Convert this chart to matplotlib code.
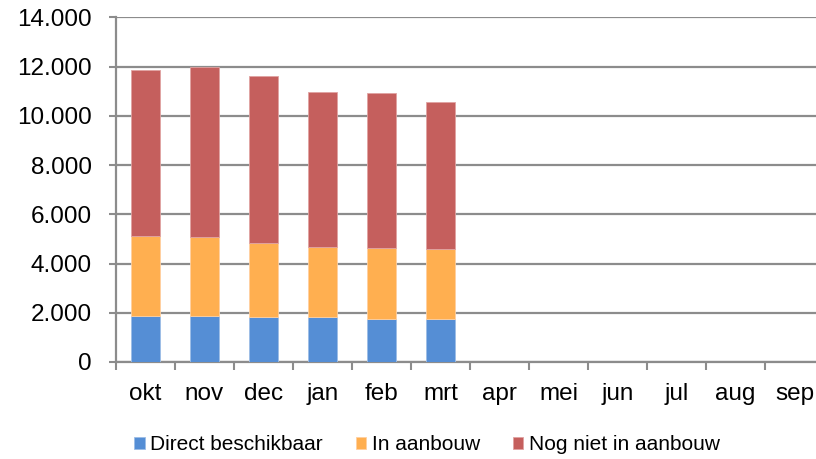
import matplotlib.pyplot as plt
from matplotlib.ticker import FuncFormatter, FixedLocator
import numpy as np

plt.rcParams['font.family'] = ['Liberation Sans', 'DejaVu Sans']

# data
months = ['okt', 'nov', 'dec', 'jan', 'feb', 'mrt', 'apr', 'mei', 'jun', 'jul', 'aug', 'sep']
direct = [1870, 1880, 1830, 1840, 1760, 1730]
in_aanbouw = [3250, 3200, 3020, 2850, 2870, 2860]
nog_niet = [6750, 6900, 6760, 6270, 6290, 5950]

col_blue = '#558ED5'
col_orange = '#FFAF50'
col_red = '#C55F5D'
grid_col = '#8C8C8C'

fig = plt.figure(figsize=(8.16, 4.59), dpi=100)
# axes runs past the right edge, like the original export
ax = fig.add_axes([116 / 816, 97 / 459, 708 / 816, 344.7 / 459])

x = np.arange(len(direct))
w = 0.49
bottom2 = np.array(direct)
bottom3 = bottom2 + np.array(in_aanbouw)
ax.bar(x, direct, w, color=col_blue, edgecolor='#9DBDE6', linewidth=0.6, label='Direct beschikbaar', zorder=3)
ax.bar(x, in_aanbouw, w, bottom=bottom2, color=col_orange, edgecolor='#FFD0A0', linewidth=0.6, label='In aanbouw', zorder=3)
ax.bar(x, nog_niet, w, bottom=bottom3, color=col_red, edgecolor='#E0A3A2', linewidth=0.6, label='Nog niet in aanbouw', zorder=3)

ax.set_xlim(-0.5, len(months) - 0.5)
ax.set_ylim(0, 14000)
ax.set_yticks(range(0, 14001, 2000))
ax.yaxis.set_major_formatter(FuncFormatter(lambda v, p: f'{int(v):,}'.replace(',', '.')))

ax.set_xticks(range(len(months)))
ax.set_xticklabels(months)
ax.xaxis.set_minor_locator(FixedLocator(np.arange(-0.5, len(months), 1)))
ax.tick_params(axis='x', which='major', length=0, pad=15, labelsize=17.5)
ax.tick_params(axis='x', which='minor', length=6, width=1.5, color=grid_col, direction='out')
ax.tick_params(axis='y', length=5, width=1.5, color=grid_col, pad=12.5, labelsize=17.5)

ax.grid(axis='y', color=grid_col, linewidth=1.6, zorder=0)
ax.set_axisbelow(True)
for s in ['top', 'right']:
    ax.spines[s].set_visible(False)
for s in ['left', 'bottom']:
    ax.spines[s].set_color(grid_col)
    ax.spines[s].set_linewidth(1.6)
ax.spines['left'].set_zorder(4)

fig.legend(loc='center', bbox_to_anchor=(427 / 816, 14 / 459), ncol=3, frameon=False,
           fontsize=15, handlelength=0.5, handleheight=0.5, handletextpad=0.25, columnspacing=1.6)

fig.savefig('out.png', dpi=100)
